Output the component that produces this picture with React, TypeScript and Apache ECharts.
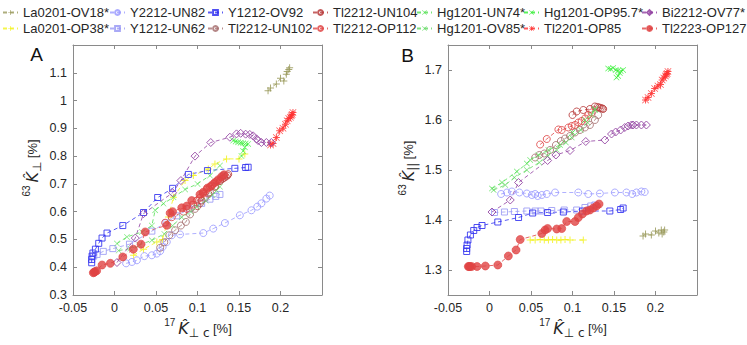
import React, { useEffect, useRef } from "react";
import * as echarts from "echarts";

// ---------- data ----------
// Each sample: Kc (x), K_perp (panel A y), K_par (panel B y)
const la0201OV18_kc = [0.185, 0.188, 0.195, 0.2, 0.204, 0.207, 0.208, 0.21, 0.211];
const la0201OV18_perp = [1.035, 1.045, 1.06, 1.08, 1.07, 1.095, 1.105, 1.112, 1.118];
const la0201OV18_par = [1.368, 1.372, 1.37, 1.378, 1.374, 1.38, 1.372, 1.376, 1.38];

const la0201OP38_kcA = [0.023, 0.035, 0.051, 0.058, 0.065, 0.071, 0.085, 0.095, 0.113, 0.121, 0.135, 0.15, 0.157];
const la0201OP38_perp = [0.443, 0.465, 0.491, 0.5, 0.581, 0.652, 0.712, 0.73, 0.754, 0.772, 0.79, 0.79, 0.808];
const la0201OP38_kcB = [0.049, 0.055, 0.061, 0.066, 0.071, 0.076, 0.081, 0.086, 0.091, 0.097, 0.113];
const la0201OP38_par = [1.36, 1.36, 1.361, 1.36, 1.36, 1.361, 1.36, 1.36, 1.361, 1.36, 1.36];

const y2212UN82_kc = [0.014, 0.021, 0.027, 0.036, 0.045, 0.051, 0.055, 0.058, 0.063, 0.069, 0.079, 0.107, 0.119, 0.133, 0.151, 0.165, 0.172, 0.177, 0.183, 0.187];
const y2212UN82_perp = [0.414, 0.419, 0.425, 0.44, 0.443, 0.449, 0.458, 0.473, 0.491, 0.515, 0.518, 0.523, 0.539, 0.559, 0.587, 0.605, 0.618, 0.63, 0.647, 0.658];
const y2212UN82_par = [1.452, 1.455, 1.457, 1.455, 1.453, 1.45, 1.452, 1.448, 1.45, 1.452, 1.455, 1.455, 1.452, 1.453, 1.455, 1.455, 1.452, 1.455, 1.457, 1.456];

const y1212UN62_kcA = [-0.025, -0.021, -0.0135, -0.002, 0.018, 0.045, 0.062, 0.075, 0.09, 0.105, 0.115, 0.122, 0.127];
const y1212UN62_perp = [0.44, 0.446, 0.457, 0.467, 0.483, 0.53, 0.56, 0.585, 0.61, 0.63, 0.645, 0.655, 0.662];
const y1212UN62_kcB = [0.006, 0.018, 0.03, 0.045, 0.055, 0.062, 0.075, 0.09, 0.105, 0.115, 0.122, 0.127];
const y1212UN62_par = [1.415, 1.416, 1.417, 1.418, 1.418, 1.418, 1.419, 1.42, 1.42, 1.425, 1.428, 1.43];

const y1212OV92_kc = [-0.0275, -0.0275, -0.027, -0.026, -0.023, -0.019, -0.015, -0.009, 0.01, 0.035, 0.052, 0.07, 0.089, 0.112, 0.145, 0.158, 0.161];
const y1212OV92_perp = [0.416, 0.428, 0.44, 0.451, 0.465, 0.486, 0.505, 0.523, 0.55, 0.597, 0.651, 0.684, 0.734, 0.748, 0.756, 0.759, 0.76];
const y1212OV92_par = [1.337, 1.343, 1.35, 1.36, 1.37, 1.379, 1.385, 1.389, 1.396, 1.405, 1.414, 1.415, 1.416, 1.418, 1.418, 1.421, 1.424];

const tl2212UN102_kc = [0.055, 0.06, 0.066, 0.073, 0.08, 0.086, 0.091, 0.097, 0.103, 0.109, 0.115, 0.121, 0.127, 0.131];
const tl2212UN102_perp = [0.47, 0.49, 0.515, 0.533, 0.55, 0.563, 0.59, 0.61, 0.63, 0.65, 0.67, 0.69, 0.712, 0.73];
const tl2212UN102_par = [1.525, 1.53, 1.533, 1.54, 1.55, 1.558, 1.563, 1.568, 1.575, 1.58, 1.585, 1.59, 1.6, 1.61];

const tl2212UN104_kc = [0.1, 0.105, 0.113, 0.121, 0.127, 0.13, 0.132, 0.134, 0.136, 0.137];
const tl2212UN104_perp = [0.62, 0.64, 0.665, 0.69, 0.71, 0.718, 0.722, 0.726, 0.73, 0.735];
const tl2212UN104_par = [1.61, 1.617, 1.62, 1.622, 1.627, 1.626, 1.625, 1.624, 1.623, 1.622];

const tl2212OP112_kc = [0.061, 0.069, 0.083, 0.087, 0.095, 0.099, 0.103, 0.107, 0.111, 0.115, 0.119, 0.123];
const tl2212OP112_perp = [0.56, 0.58, 0.6, 0.61, 0.625, 0.64, 0.65, 0.665, 0.68, 0.69, 0.7, 0.71];
const tl2212OP112_par = [1.551, 1.562, 1.581, 1.58, 1.585, 1.588, 1.59, 1.595, 1.598, 1.603, 1.61, 1.615];

const hg1201UN74_kc = [0.003, 0.015, 0.033, 0.045, 0.049, 0.059, 0.071, 0.085, 0.1, 0.115, 0.127];
const hg1201UN74_perp = [0.485, 0.509, 0.527, 0.55, 0.605, 0.629, 0.652, 0.68, 0.7, 0.73, 0.766];
const hg1201UN74_par = [1.463, 1.475, 1.497, 1.513, 1.52, 1.53, 1.54, 1.55, 1.575, 1.6, 1.62];

const hg1201OV85_kc = [0.005, 0.019, 0.03, 0.045, 0.06, 0.07, 0.081, 0.092, 0.099, 0.11, 0.118, 0.123, 0.127];
const hg1201OV85_perp = [0.46, 0.467, 0.48, 0.497, 0.52, 0.55, 0.58, 0.6, 0.617, 0.64, 0.66, 0.676, 0.69];
const hg1201OV85_par = [1.46, 1.47, 1.485, 1.5, 1.515, 1.528, 1.54, 1.555, 1.565, 1.58, 1.595, 1.61, 1.622];

const hg1201OP957_kc = [0.143, 0.146, 0.149, 0.152, 0.155, 0.158, 0.161, 0.157, 0.155, 0.153];
const hg1201OP957_perp = [0.856, 0.853, 0.85, 0.848, 0.846, 0.845, 0.844, 0.832, 0.818, 0.8];
const hg1201OP957_par = [1.703, 1.702, 1.704, 1.7, 1.699, 1.698, 1.7, 1.694, 1.688, 1.685];

const tl2201OP85_kc = [0.188, 0.191, 0.195, 0.199, 0.203, 0.206, 0.208, 0.21, 0.212, 0.213, 0.214, 0.215];
const tl2201OP85_perp = [0.84, 0.845, 0.867, 0.891, 0.9, 0.915, 0.927, 0.935, 0.94, 0.945, 0.95, 0.957];
const tl2201OP85_par = [1.64, 1.645, 1.653, 1.663, 1.668, 1.671, 1.68, 1.684, 1.688, 1.691, 1.693, 1.697];

const bi2212OV77_kc = [0.003, 0.025, 0.035, 0.07, 0.08, 0.097, 0.116, 0.139, 0.147, 0.152, 0.158, 0.163, 0.167, 0.171, 0.173, 0.177, 0.183, 0.189];
const bi2212OV77_perp = [0.417, 0.505, 0.593, 0.668, 0.712, 0.8, 0.849, 0.868, 0.88, 0.882, 0.879, 0.878, 0.873, 0.862, 0.856, 0.849, 0.849, 0.849];
const bi2212OV77_par = [1.416, 1.44, 1.475, 1.519, 1.53, 1.539, 1.557, 1.56, 1.572, 1.576, 1.58, 1.585, 1.588, 1.59, 1.59, 1.59, 1.59, 1.59];

const tl2223OP127_kc = [-0.0255, -0.0245, -0.0235, -0.0215, -0.015, -0.005, 0.01, 0.0227, 0.032, 0.037, 0.063, 0.067, 0.07, 0.081, 0.087, 0.093, 0.103, 0.107, 0.112, 0.117, 0.121, 0.125, 0.129, 0.132];
const tl2223OP127_perp = [0.38, 0.382, 0.384, 0.387, 0.408, 0.414, 0.437, 0.465, 0.483, 0.527, 0.551, 0.595, 0.6, 0.614, 0.62, 0.64, 0.662, 0.67, 0.685, 0.694, 0.705, 0.715, 0.726, 0.733];
const tl2223OP127_par = [1.307, 1.307, 1.307, 1.307, 1.307, 1.308, 1.31, 1.328, 1.34, 1.361, 1.373, 1.38, 1.383, 1.382, 1.383, 1.397, 1.397, 1.405, 1.412, 1.418, 1.42, 1.424, 1.428, 1.432];

// axis ticks
const xTicks = [-0.05, 0, 0.05, 0.1, 0.15, 0.2];
const yTicksA = [0.3, 0.4, 0.5, 0.6, 0.7, 0.8, 0.9, 1, 1.1];
const yTicksB = [1.3, 1.4, 1.5, 1.6, 1.7];

// legend columns (names)
const legendColumns = [
  ["La0201-OV18*", "La0201-OP38*"],
  ["Y2212-UN82", "Y1212-UN62"],
  ["Y1212-OV92", "Tl2212-UN102"],
  ["Tl2212-UN104", "Tl2212-OP112"],
  ["Hg1201-UN74*", "Hg1201-OV85*"],
  ["Hg1201-OP95.7*", "Tl2201-OP85"],
  ["Bi2212-OV77*", "Tl2223-OP127"],
];

// ---------- styling ----------
const SYM_PLUS = "path://M4.3,0H5.7V4.3H10V5.7H5.7V10H4.3V5.7H0V4.3H4.3Z";
const X_D = "M0.7,0L5,4.3L9.3,0L10,0.7L5.7,5L10,9.3L9.3,10L5,5.7L0.7,10L0,9.3L4.3,5L0,0.7Z";
const SYM_X = "path://" + X_D;
const SYM_STAR = "path://M4.3,0H5.7V4.3H10V5.7H5.7V10H4.3V5.7H0V4.3H4.3Z " + X_D;

type Kind = "hollow" | "filled" | "path";
const STYLE: Record<string, { color: string; symbol: string; size: number; kind: Kind }> = {
  "La0201-OV18*": { color: "#9a9a5c", symbol: SYM_PLUS, size: 7, kind: "path" },
  "La0201-OP38*": { color: "#f2f21e", symbol: SYM_PLUS, size: 7, kind: "path" },
  "Y2212-UN82": { color: "#9c9cff", symbol: "circle", size: 7, kind: "hollow" },
  "Y1212-UN62": { color: "#9a9af5", symbol: "rect", size: 6, kind: "hollow" },
  "Y1212-OV92": { color: "#3030f0", symbol: "rect", size: 6, kind: "hollow" },
  "Tl2212-UN102": { color: "#a87272", symbol: "circle", size: 7, kind: "hollow" },
  "Tl2212-UN104": { color: "#b83c3c", symbol: "circle", size: 7, kind: "hollow" },
  "Tl2212-OP112": { color: "#e04848", symbol: "circle", size: 7, kind: "hollow" },
  "Hg1201-UN74*": { color: "#52e052", symbol: SYM_X, size: 6, kind: "path" },
  "Hg1201-OV85*": { color: "#62d862", symbol: SYM_X, size: 6, kind: "path" },
  "Hg1201-OP95.7*": { color: "#30ee30", symbol: SYM_X, size: 6, kind: "path" },
  "Tl2201-OP85": { color: "#ff3030", symbol: SYM_STAR, size: 7, kind: "path" },
  "Bi2212-OV77*": { color: "#9040a0", symbol: "diamond", size: 8, kind: "hollow" },
  "Tl2223-OP127": { color: "#e04444", symbol: "circle", size: 8, kind: "filled" },
};

type Def = { name: string; xA: number[]; yA: number[]; xB: number[]; yB: number[] };
const DEFS: Def[] = [
  { name: "La0201-OV18*", xA: la0201OV18_kc, yA: la0201OV18_perp, xB: la0201OV18_kc, yB: la0201OV18_par },
  { name: "La0201-OP38*", xA: la0201OP38_kcA, yA: la0201OP38_perp, xB: la0201OP38_kcB, yB: la0201OP38_par },
  { name: "Y2212-UN82", xA: y2212UN82_kc, yA: y2212UN82_perp, xB: y2212UN82_kc, yB: y2212UN82_par },
  { name: "Y1212-UN62", xA: y1212UN62_kcA, yA: y1212UN62_perp, xB: y1212UN62_kcB, yB: y1212UN62_par },
  { name: "Y1212-OV92", xA: y1212OV92_kc, yA: y1212OV92_perp, xB: y1212OV92_kc, yB: y1212OV92_par },
  { name: "Tl2212-UN102", xA: tl2212UN102_kc, yA: tl2212UN102_perp, xB: tl2212UN102_kc, yB: tl2212UN102_par },
  { name: "Tl2212-UN104", xA: tl2212UN104_kc, yA: tl2212UN104_perp, xB: tl2212UN104_kc, yB: tl2212UN104_par },
  { name: "Tl2212-OP112", xA: tl2212OP112_kc, yA: tl2212OP112_perp, xB: tl2212OP112_kc, yB: tl2212OP112_par },
  { name: "Hg1201-UN74*", xA: hg1201UN74_kc, yA: hg1201UN74_perp, xB: hg1201UN74_kc, yB: hg1201UN74_par },
  { name: "Hg1201-OV85*", xA: hg1201OV85_kc, yA: hg1201OV85_perp, xB: hg1201OV85_kc, yB: hg1201OV85_par },
  { name: "Hg1201-OP95.7*", xA: hg1201OP957_kc, yA: hg1201OP957_perp, xB: hg1201OP957_kc, yB: hg1201OP957_par },
  { name: "Tl2201-OP85", xA: tl2201OP85_kc, yA: tl2201OP85_perp, xB: tl2201OP85_kc, yB: tl2201OP85_par },
  { name: "Bi2212-OV77*", xA: bi2212OV77_kc, yA: bi2212OV77_perp, xB: bi2212OV77_kc, yB: bi2212OV77_par },
  { name: "Tl2223-OP127", xA: tl2223OP127_kc, yA: tl2223OP127_perp, xB: tl2223OP127_kc, yB: tl2223OP127_par },
];

const FONT = "'Liberation Sans', Arial, sans-serif";
const AXIS_COLOR = "#8a8a8a";
const TEXT_COLOR = "#262626";

const fmt = (v: number) => String(Math.round(v * 1000) / 1000);

function itemStyleFor(s: { color: string; kind: Kind }) {
  if (s.kind === "hollow") return { color: "rgba(255,255,255,0)", borderColor: s.color, borderWidth: 1, opacity: 0.85 };
  if (s.kind === "filled") return { color: s.color, borderColor: s.color, borderWidth: 0.8, opacity: 0.8 };
  return { color: s.color, borderWidth: 0, opacity: 0.85 };
}

function buildSeries() {
  const out: any[] = [];
  DEFS.forEach((d) => {
    const s = STYLE[d.name];
    const common = {
      type: "line",
      name: d.name,
      symbol: s.symbol,
      symbolSize: s.size,
      showAllSymbol: true,
      lineStyle: { color: s.color, width: 1, type: [4, 3], opacity: 0.8 },
      itemStyle: itemStyleFor(s),
      emphasis: { disabled: true },
      silent: true,
    };
    out.push({ ...common, xAxisIndex: 0, yAxisIndex: 0, data: d.xA.map((x, i) => [x, d.yA[i]]) });
    out.push({ ...common, xAxisIndex: 2, yAxisIndex: 2, data: d.xB.map((x, i) => [x, d.yB[i]]) });
  });
  return out;
}

function xAxis(grid: number, pos: "bottom" | "top") {
  return {
    type: "value",
    gridIndex: grid,
    position: pos,
    min: -0.05,
    max: 0.25,
    axisLine: { show: true, onZero: false, lineStyle: { color: AXIS_COLOR, width: 1 } },
    axisTick: { show: true, inside: true, length: 4, customValues: xTicks, lineStyle: { color: AXIS_COLOR } },
    axisLabel: {
      show: pos === "bottom",
      customValues: xTicks,
      formatter: (v: number) => fmt(v),
      color: TEXT_COLOR,
      fontSize: 12.5,
      fontFamily: FONT,
      margin: 6,
    },
    splitLine: { show: false },
  };
}

function yAxis(grid: number, pos: "left" | "right", min: number, max: number, ticks: number[]) {
  return {
    type: "value",
    gridIndex: grid,
    position: pos,
    min,
    max,
    axisLine: { show: true, onZero: false, lineStyle: { color: AXIS_COLOR, width: 1 } },
    axisTick: { show: true, inside: true, length: 4, customValues: ticks, lineStyle: { color: AXIS_COLOR } },
    axisLabel: {
      show: pos === "left",
      customValues: ticks,
      formatter: (v: number) => fmt(v),
      color: TEXT_COLOR,
      fontSize: 12.5,
      fontFamily: FONT,
      margin: 6,
    },
    splitLine: { show: false },
  };
}

const legendLefts = [2, 109, 207, 312, 416, 523, 641];

const richTitle = {
  sup: { fontSize: 10, verticalAlign: "top", lineHeight: 22, fontFamily: FONT, fill: TEXT_COLOR, padding: [0, 3, 0, 0] },
  k: { fontSize: 16, fontStyle: "italic", fontFamily: "'DejaVu Sans', sans-serif", verticalAlign: "middle", lineHeight: 22, fill: TEXT_COLOR },
  sub: { fontSize: 12, verticalAlign: "bottom", lineHeight: 22, fontFamily: "'DejaVu Sans', sans-serif", fill: TEXT_COLOR },
  n: { fontSize: 13, verticalAlign: "middle", lineHeight: 22, fontFamily: FONT, fill: TEXT_COLOR },
};

function titleText(x: number, y: number, text: string, rotate: boolean) {
  return {
    type: "text",
    x,
    y,
    rotation: rotate ? Math.PI / 2 : 0,
    silent: true,
    style: {
      text,
      rich: richTitle,
      align: "center",
      verticalAlign: "middle",
      fill: TEXT_COLOR,
    },
  };
}

export default function App() {
  const ref = useRef<HTMLDivElement>(null);
  useEffect(() => {
    if (!ref.current) return;
    const chart = echarts.init(ref.current, undefined, { renderer: "svg" });
    const option: any = {
      animation: false,
      backgroundColor: "#ffffff",
      textStyle: { fontFamily: FONT },
      grid: [
        { left: 73, top: 45, width: 249, height: 250 },
        { left: 448, top: 45, width: 249, height: 250 },
      ],
      xAxis: [xAxis(0, "bottom"), xAxis(0, "top"), xAxis(1, "bottom"), xAxis(1, "top")],
      yAxis: [
        yAxis(0, "left", 0.3, 1.2, yTicksA),
        yAxis(0, "right", 0.3, 1.2, yTicksA),
        yAxis(1, "left", 1.25, 1.75, yTicksB),
        yAxis(1, "right", 1.25, 1.75, yTicksB),
      ],
      legend: legendColumns.map((col, i) => ({
        data: col,
        orient: "vertical",
        left: legendLefts[i],
        top: 6,
        padding: 0,
        itemGap: 3,
        itemWidth: 15,
        itemHeight: 6,
        selectedMode: false,
        textStyle: { fontSize: 13, color: TEXT_COLOR, fontFamily: FONT },
      })),
      graphic: [
        { type: "text", x: 36.5, y: 54.5, silent: true, style: { text: "A", fontSize: 19, fontFamily: FONT, fill: "#111", align: "center", verticalAlign: "middle" } },
        { type: "text", x: 407.5, y: 55, silent: true, style: { text: "B", fontSize: 19, fontFamily: FONT, fill: "#111", align: "center", verticalAlign: "middle" } },
        titleText(32, 168, "{sup|63}{k|K\u0302}{sub|\u22a5} {n|[%]}", true),
        titleText(408, 168, "{sup|63}{k|K\u0302}{sub|||} {n|[%]}", true),
        titleText(198, 328, "{sup|17}{k|K\u0302}{sub|\u22a5 c} {n|[%]}", false),
        titleText(573, 328, "{sup|17}{k|K\u0302}{sub|\u22a5 c} {n|[%]}", false),
      ],
      series: buildSeries(),
    };
    chart.setOption(option);
    return () => chart.dispose();
  }, []);
  return <div ref={ref} style={{ position: "fixed", left: 0, top: 0, width: 747, height: 345 }} />;
}
